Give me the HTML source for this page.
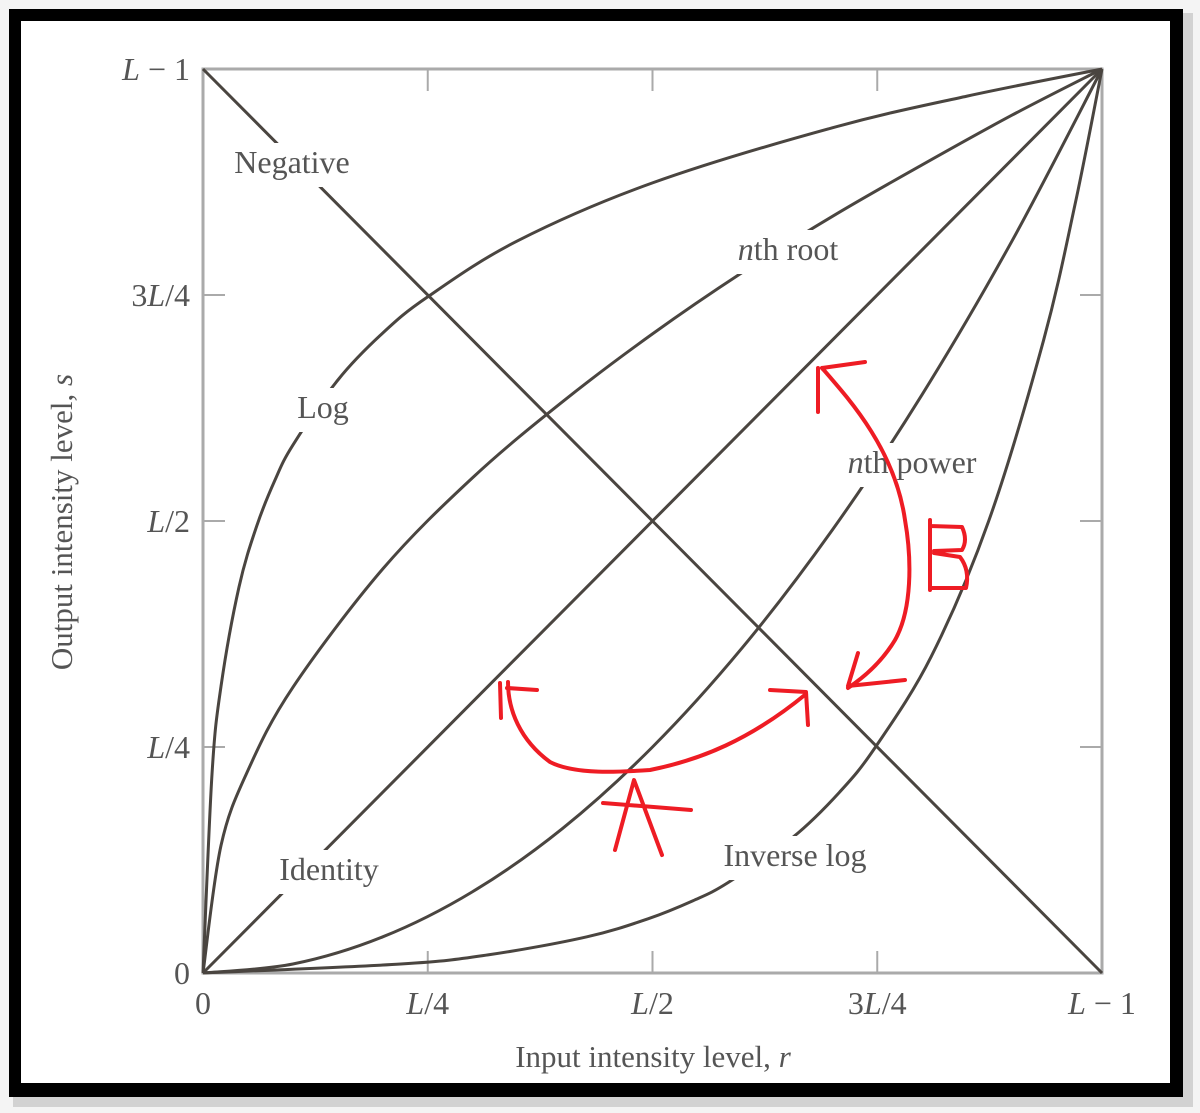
<!DOCTYPE html>
<html><head><meta charset="utf-8"><style>
html,body{margin:0;padding:0;background:#fff;}
svg{display:block;}
text{font-family:"Liberation Serif",serif;fill:#555;}
</style></head><body>
<svg width="1200" height="1113" viewBox="0 0 1200 1113" xmlns="http://www.w3.org/2000/svg">
<rect x="0" y="0" width="1200" height="1113" fill="#f4f4f4"/>
<rect x="13" y="13" width="1180" height="1094" fill="#bbb" opacity="0.6"/>
<rect x="9" y="9" width="1174" height="1088" fill="#000"/>
<rect x="21" y="21" width="1149" height="1062" fill="#fff"/>
<g id="plot"></g>
</svg>
<script>
const xTickLabels=["0","L/4","L/2","3L/4","L − 1"];
const yTickLabels=["0","L/4","L/2","3L/4","L − 1"];
const tickVals=[0,0.25,0.5,0.75,1];
const negR=[0,1], negS=[1,0];
const idR=[0,1], idS=[0,1];
const logR=[0,0.01,0.02,0.04,0.06,0.08,0.1,0.15,0.2,0.25,0.35,0.5,0.7,0.85,1];
const logS=[0,0.22,0.317,0.427,0.495,0.545,0.584,0.656,0.708,0.748,0.81,0.874,0.935,0.97,1];
const invR=[0,0.22,0.317,0.427,0.495,0.545,0.584,0.656,0.708,0.748,0.81,0.874,0.935,0.97,1];
const invS=[0,0.01,0.02,0.04,0.06,0.08,0.1,0.15,0.2,0.25,0.35,0.5,0.7,0.85,1];
const rootR=[0,0.02,0.05,0.1,0.2,0.3,0.4,0.5,0.6,0.7,0.8,0.9,1];
const rootS=[0,0.141,0.224,0.316,0.447,0.548,0.632,0.707,0.775,0.837,0.894,0.949,1];
const powR=[0,0.1,0.2,0.3,0.4,0.5,0.6,0.7,0.8,0.9,1];
const powS=[0,0.01,0.04,0.09,0.16,0.25,0.36,0.49,0.64,0.81,1];

const X0=203,X1=1102,Y0=973,Y1=69;
const xs=v=>X0+v*(X1-X0), ys=v=>Y0-v*(Y0-Y1);
const NS="http://www.w3.org/2000/svg";
const g=document.getElementById('plot');
function mk(t,a,p){const e=document.createElementNS(NS,t);for(const k in a)e.setAttribute(k,a[k]);(p||g).appendChild(e);return e;}

const axis=mk('rect',{x:X0,y:Y1,width:X1-X0,height:Y0-Y1,fill:'none',stroke:'#aaa','stroke-width':3});


function tickText(t,s){
  if(s.includes('L')){
    const i=s.indexOf('L');
    if(i>0){const a=mk('tspan',{},t);a.textContent=s.slice(0,i);}
    const b=mk('tspan',{'font-style':'italic'},t);b.textContent='L';
    const c=mk('tspan',{},t);c.textContent=s.slice(i+1);
  } else t.textContent=s;
}
tickVals.forEach((v,i)=>{
  if(v>0&&v<1){
    [[xs(v),Y0,xs(v),Y0-22],[xs(v),Y1,xs(v),Y1+22],[X0,ys(v),X0+22,ys(v)],[X1,ys(v),X1-22,ys(v)]].forEach(c=>{
      const t=mk('line',{x1:c[0],y1:c[1],x2:c[2],y2:c[3],stroke:'#aaa','stroke-width':2});
      
      
    });
  }
  const xl=mk('text',{x:xs(v),y:1014,'font-size':32,'text-anchor':'middle'});
  tickText(xl,xTickLabels[i]);
  
  
  const yl=mk('text',{x:190,y:ys(v)+11,'font-size':32,'text-anchor':'end'});
  tickText(yl,yTickLabels[i]);
  
  
});

function curve(R,S,name){
  const P=R.map((r,i)=>[xs(r),ys(S[i])]);
  let d='M'+P[0][0].toFixed(1)+' '+P[0][1].toFixed(1);
  for(let i=0;i<P.length-1;i++){
    const p0=P[Math.max(i-1,0)],p1=P[i],p2=P[i+1],p3=P[Math.min(i+2,P.length-1)];
    const c1=[p1[0]+(p2[0]-p0[0])/6,p1[1]+(p2[1]-p0[1])/6];
    const c2=[p2[0]-(p3[0]-p1[0])/6,p2[1]-(p3[1]-p1[1])/6];
    d+=' C'+c1.map(v=>v.toFixed(1)).join(' ')+' '+c2.map(v=>v.toFixed(1)).join(' ')+' '+p2.map(v=>v.toFixed(1)).join(' ');
  }
  const p=mk('path',{d:d,fill:'none',stroke:'#4a4540','stroke-width':3,'stroke-linejoin':'round'});
  
  
}
curve(negR,negS,'negative-line');
curve(idR,idS,'identity-line');
curve(logR,logS,'log-curve');
curve(invR,invS,'inverse-log-curve');
curve(rootR,rootS,'nth-root-curve');
curve(powR,powS,'nth-power-curve');

const labels=[["Negative",292,173,"negative-label"],["nth root",788,260,"nth-root-label"],["Log",323,418,"log-label"],["nth power",912,473,"nth-power-label"],["Identity",329,880,"identity-label"],["Inverse log",795,866,"inverse-log-label"]];
labels.forEach(l=>{
  const w=l[0].length*15.5+16;
  const bg=mk('rect',{x:l[1]-w/2,y:l[2]-30,width:w,height:44,fill:'#fff'});
  
  
  const t=mk('text',{x:l[1],y:l[2],'font-size':32,'text-anchor':'middle'});
  if(l[0].startsWith('nth')){
    const a=mk('tspan',{'font-style':'italic'},t);a.textContent='n';
    const b=mk('tspan',{},t);b.textContent=l[0].slice(1);
  } else t.textContent=l[0];
  
  
});
</script>
<svg style="position:absolute;left:0;top:0" width="1200" height="1113" xmlns="http://www.w3.org/2000/svg">
<text x="653" y="1067" font-size="31" text-anchor="middle">Input intensity level, <tspan font-style="italic">r</tspan></text>
<text x="0" y="0" font-size="31" text-anchor="middle" transform="translate(72,522) rotate(-90)">Output intensity level, <tspan font-style="italic">s</tspan></text>
<g fill="none" stroke="#ee1c24" stroke-width="4" stroke-linecap="round" stroke-linejoin="round">
<path d="M508,682 C508,710 520,740 550,762 C575,775 620,772 650,770 C700,760 750,740 806,694"/>
<path d="M500,683 L501,718 M507,688 L537,690 M770,690 L806,692 L808,725"/>
<path d="M615,850 L634,780 L662,855 M603,803 L691,810"/>
<path d="M822,368 C850,400 895,450 905,520 C912,560 912,610 895,640 C880,665 860,680 848,688"/>
<path d="M818,368 L818,412 M822,368 L865,362 M858,653 L848,686 L905,680"/>
<path d="M930,520 L930,590 M930,526 L962,527 Q968,540 962,550 L934,551 M934,553 L960,557 Q970,570 966,588 L932,588"/>
</g>
</svg>
</body></html>
